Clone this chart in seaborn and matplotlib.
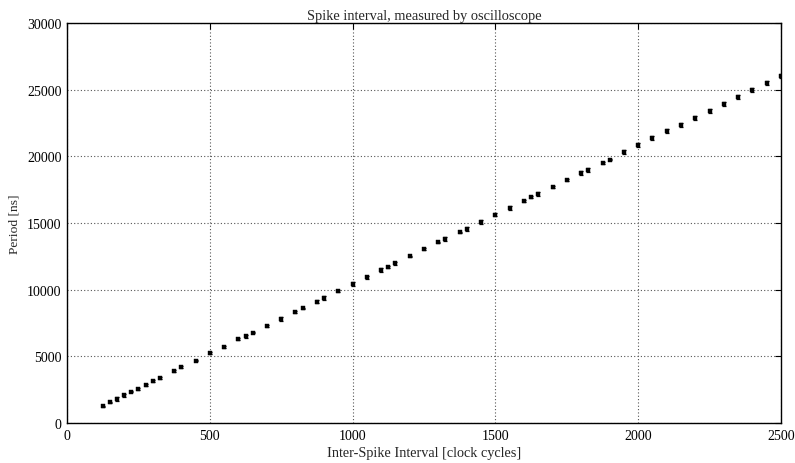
import matplotlib
matplotlib.use("Agg")
import matplotlib.pyplot as plt
import seaborn as sns
import pandas as pd

# Measured spike intervals: programmed interval vs period on the scope
cycles = [125, 150, 175, 200, 225, 250, 275, 300, 325, 375, 400, 450, 500, 550,
          600, 625, 650, 700, 750, 800, 825, 875, 900, 950, 1000, 1050, 1100,
          1125, 1150, 1200, 1250, 1300, 1325, 1375, 1400, 1450, 1500, 1550,
          1600, 1625, 1650, 1700, 1750, 1800, 1825, 1875, 1900, 1950, 2000,
          2050, 2100, 2150, 2200, 2250, 2300, 2350, 2400, 2450, 2500]
period_ns = [1250, 1550, 1800, 2080, 2350, 2550, 2850, 3130, 3380, 3900, 4180,
             4680, 5230, 5720, 6280, 6510, 6780, 7280, 7800, 8330, 8600, 9100,
             9380, 9880, 10430, 10930, 11480, 11700, 11980, 12500, 13030,
             13550, 13800, 14300, 14550, 15100, 15620, 16130, 16640, 16930,
             17180, 17680, 18230, 18750, 19000, 19500, 19750, 20300, 20830,
             21350, 21880, 22380, 22900, 23430, 23950, 24480, 25000, 25530,
             26030]
period_err = [60, 60, 150, 100, 60, 60, 60, 60, 60, 60, 60, 60, 80, 60,
              60, 120, 60, 80, 150, 100, 60, 100, 150, 60, 120, 100, 120,
              60, 100, 60, 60, 60, 150, 60, 150, 150, 120, 150,
              80, 60, 150, 60, 100, 150, 150, 60, 60, 150, 150,
              150, 150, 150, 150, 150, 150, 150, 150, 150, 150]

x_ticks = [0, 500, 1000, 1500, 2000, 2500]
y_ticks = [0, 5000, 10000, 15000, 20000, 25000, 30000]

df = pd.DataFrame({"cycles": cycles, "period": period_ns, "err": period_err})

sns.set_style("white")
plt.rcParams["font.family"] = ["Liberation Serif", "DejaVu Serif"]

fig = plt.figure(figsize=(7.95, 4.64), dpi=100)
ax = fig.add_axes([0.0843, 0.0862, 0.8981, 0.8621])

ax.errorbar(df["cycles"], df["period"], yerr=df["err"], fmt="none",
            ecolor="black", elinewidth=0.9, capsize=1.5, capthick=0.9,
            zorder=3)
sns.scatterplot(data=df, x="cycles", y="period", marker="s", s=5,
                color="black", edgecolor="black", linewidth=0.3, ax=ax,
                zorder=4)

ax.set_xlim(0, 2500)
ax.set_ylim(0, 30000)
ax.set_xticks(x_ticks)
ax.set_yticks(y_ticks)
ax.set_xticklabels([str(v) for v in x_ticks])
ax.set_yticklabels([str(v) for v in y_ticks])
ax.tick_params(direction="in", length=4, width=0.8, labelsize=10,
               colors="black", pad=4, top=True, right=True)
ax.grid(True, linestyle=(0, (1, 2)), color="#555555", linewidth=0.8)

for side in ax.spines.values():
    side.set_color("black")
    side.set_linewidth(1.0)

ax.set_title("Spike interval, measured by oscilloscope", fontsize=10.4, pad=3)
ax.set_xlabel("Inter-Spike Interval [clock cycles]", fontsize=10.3, labelpad=3)
ax.set_ylabel("Period [ns]", fontsize=9.7, labelpad=5)

fig.savefig("out.png", dpi=100)
